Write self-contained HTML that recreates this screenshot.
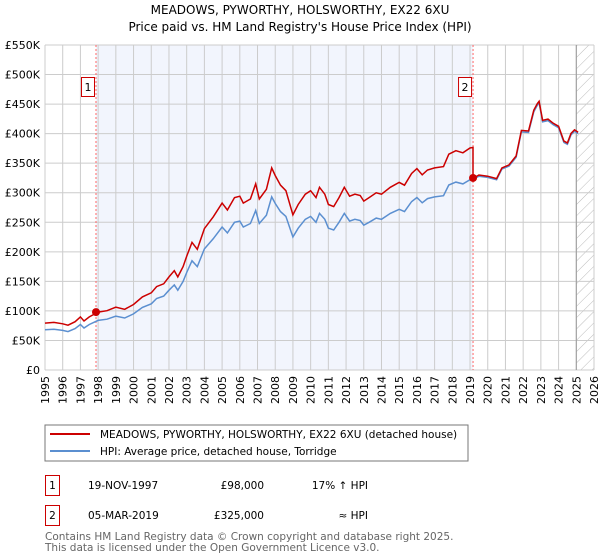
<!DOCTYPE html>
<html><head><meta charset="utf-8"><style>
body{margin:0;background:#fff;font-family:"DejaVu Sans","Liberation Sans",sans-serif;}
svg{display:block}
</style></head><body>
<svg id="chart" width="600" height="560" xmlns="http://www.w3.org/2000/svg" font-family="DejaVu Sans, Liberation Sans, sans-serif">
<defs><pattern id="hatch" width="8" height="8" patternUnits="userSpaceOnUse" patternTransform="rotate(45)"><line x1="0" y1="0" x2="0" y2="8" stroke="#bbb" stroke-width="1"/></pattern></defs>
<text x="300" y="14" text-anchor="middle" font-size="12" fill="#000">MEADOWS, PYWORTHY, HOLSWORTHY, EX22 6XU</text>
<text x="300" y="31" text-anchor="middle" font-size="12" fill="#000">Price paid vs. HM Land Registry's House Price Index (HPI)</text>
<g id="plot"></g>
<rect x="45" y="425" width="423" height="36" fill="#fff" stroke="#777"/>
<line x1="50" y1="434" x2="90" y2="434" stroke="#cc0000" stroke-width="2"/>
<text x="100" y="438" font-size="10.5">MEADOWS, PYWORTHY, HOLSWORTHY, EX22 6XU (detached house)</text>
<line x1="50" y1="451" x2="90" y2="451" stroke="#5b8fd0" stroke-width="2"/>
<text x="100" y="455" font-size="10.5">HPI: Average price, detached house, Torridge</text>
<g>
<rect x="45.5" y="475.5" width="14" height="20" fill="#fff" stroke="#cc0000"/>
<text x="52.5" y="489" font-size="10.5" text-anchor="middle">1</text>
<text x="88" y="489" font-size="10.5">19-NOV-1997</text>
<text x="264" y="489" font-size="10.5" text-anchor="end">£98,000</text>
<text x="368" y="489" font-size="10.5" text-anchor="end">17% ↑ HPI</text>
</g>
<g>
<rect x="45.5" y="505.5" width="14" height="20" fill="#fff" stroke="#cc0000"/>
<text x="52.5" y="519" font-size="10.5" text-anchor="middle">2</text>
<text x="88" y="519" font-size="10.5">05-MAR-2019</text>
<text x="264" y="519" font-size="10.5" text-anchor="end">£325,000</text>
<text x="368" y="519" font-size="10.5" text-anchor="end">≈ HPI</text>
</g>
<text x="45" y="540" font-size="10.5" fill="#666">Contains HM Land Registry data © Crown copyright and database right 2025.</text>
<text x="45" y="551" font-size="10.5" fill="#666">This data is licensed under the Open Government Licence v3.0.</text>
</svg>
<script>
const yTicks=[0,50,100,150,200,250,300,350,400,450,500,550];
const yTickLabels=["£0","£50K","£100K","£150K","£200K","£250K","£300K","£350K","£400K","£450K","£500K","£550K"];
const xYears=[1995,1996,1997,1998,1999,2000,2001,2002,2003,2004,2005,2006,2007,2008,2009,2010,2011,2012,2013,2014,2015,2016,2017,2018,2019,2020,2021,2022,2023,2024,2025,2026];
const hpiDates=[1995.0,1995.5,1996.0,1996.3,1996.7,1997.0,1997.2,1997.5,1998.0,1998.5,1999.0,1999.5,2000.0,2000.5,2001.0,2001.3,2001.7,2002.0,2002.3,2002.5,2002.8,2003.0,2003.3,2003.6,2004.0,2004.5,2005.0,2005.3,2005.7,2006.0,2006.2,2006.6,2006.9,2007.1,2007.5,2007.8,2008.0,2008.3,2008.6,2009.0,2009.3,2009.7,2010.0,2010.3,2010.5,2010.8,2011.0,2011.3,2011.6,2011.9,2012.2,2012.5,2012.8,2013.0,2013.3,2013.7,2014.0,2014.5,2015.0,2015.3,2015.7,2016.0,2016.3,2016.6,2017.0,2017.5,2017.8,2018.2,2018.6,2019.0,2019.2,2019.5,2020.0,2020.5,2020.8,2021.2,2021.6,2021.9,2022.3,2022.6,2022.8,2022.9,2023.1,2023.4,2023.7,2024.0,2024.3,2024.5,2024.7,2024.9,2025.1];
const hpiValues=[68,69,67,65,70,77,71,77,84,86,91,88,95,106,112,121,125,135,144,135,150,165,185,175,205,222,242,232,250,252,242,248,270,248,262,293,282,268,260,225,240,255,260,250,265,255,240,237,250,265,252,255,253,245,250,257,255,265,272,268,285,292,283,290,293,295,313,318,315,322,323,328,326,322,340,345,360,403,402,437,448,452,420,422,415,410,385,382,398,404,400];
const saleDates=[1997.88,2019.17];
const salePrices=[98,325];
const saleLabels=["1","2"];
// ratios of sale price to HPI at sale date (indexed series)
const saleRatios=[1.167,1.006];

const NS="http://www.w3.org/2000/svg";
const X0=45,X1=594,Y0=370,Y1=45;
const xS=t=>X0+(t-1995)/(2026-1995)*(X1-X0);
const yS=v=>Y0-v/550*(Y0-Y1);
const g=document.getElementById('plot');
function mk(tag,attrs){const e=document.createElementNS(NS,tag);for(const k in attrs)e.setAttribute(k,attrs[k]);g.appendChild(e);return e;}
let r=mk('rect',{x:xS(saleDates[0]),y:Y1,width:xS(saleDates[1])-xS(saleDates[0]),height:Y0-Y1,fill:'#f2f5fd'});


r=mk('rect',{x:xS(2025.0),y:Y1,width:X1-xS(2025.0),height:Y0-Y1,fill:'url(#hatch)'});


xYears.forEach(yr=>{const l=mk('line',{x1:xS(yr),x2:xS(yr),y1:Y1,y2:Y0,stroke:'#cccccc','stroke-width':1});


const t=mk('text',{x:0,y:0,'font-size':11,'text-anchor':'end',transform:`translate(${xS(yr)+4},${Y0+6}) rotate(-90)`});t.textContent=yr;

});
yTicks.forEach((v,i)=>{const l=mk('line',{x1:X0,x2:X1,y1:yS(v),y2:yS(v),stroke:'#cccccc','stroke-width':1});


const t=mk('text',{x:X0-5,y:yS(v)+4,'font-size':11,'text-anchor':'end'});t.textContent=yTickLabels[i];

});
let l=mk('line',{x1:xS(2025.0),x2:xS(2025.0),y1:Y1,y2:Y0,stroke:'#999','stroke-width':1});


saleDates.forEach((d,i)=>{const v=mk('line',{x1:xS(d),x2:xS(d),y1:Y1,y2:Y0,stroke:'#ff6666','stroke-width':1,'stroke-dasharray':'2,2'});

});
let dB='';hpiDates.forEach((d,i)=>{dB+=(i?'L':'M')+xS(d).toFixed(1)+','+yS(hpiValues[i]).toFixed(1);});
let p=mk('path',{d:dB,fill:'none',stroke:'#5b8fd0','stroke-width':1.5});


let dR='';hpiDates.forEach((d,i)=>{const ratio=d<saleDates[1]?saleRatios[0]:saleRatios[1];
if(i>0&&hpiDates[i-1]<saleDates[1]&&d>=saleDates[1]){const hv=hpiValues[i-1]+(hpiValues[i]-hpiValues[i-1])*(saleDates[1]-hpiDates[i-1])/(d-hpiDates[i-1]);dR+='L'+xS(saleDates[1]).toFixed(1)+','+yS(hv*saleRatios[0]).toFixed(1)+'L'+xS(saleDates[1]).toFixed(1)+','+yS(salePrices[1]).toFixed(1);}
dR+=(i?'L':'M')+xS(d).toFixed(1)+','+yS(hpiValues[i]*ratio).toFixed(1);});
p=mk('path',{d:dR,fill:'none',stroke:'#cc0000','stroke-width':1.5});


saleDates.forEach((d,i)=>{const c=mk('circle',{cx:xS(d),cy:yS(salePrices[i]),r:4,fill:'#cc0000'});


const bx=xS(d)-14;const b=mk('rect',{x:bx-0.5,y:77.5,width:13,height:19,fill:'#fff',stroke:'#cc0000'});


const t=mk('text',{x:bx+6,y:91,'font-size':11,'text-anchor':'middle'});t.textContent=saleLabels[i];

});
</script>
</body></html>
